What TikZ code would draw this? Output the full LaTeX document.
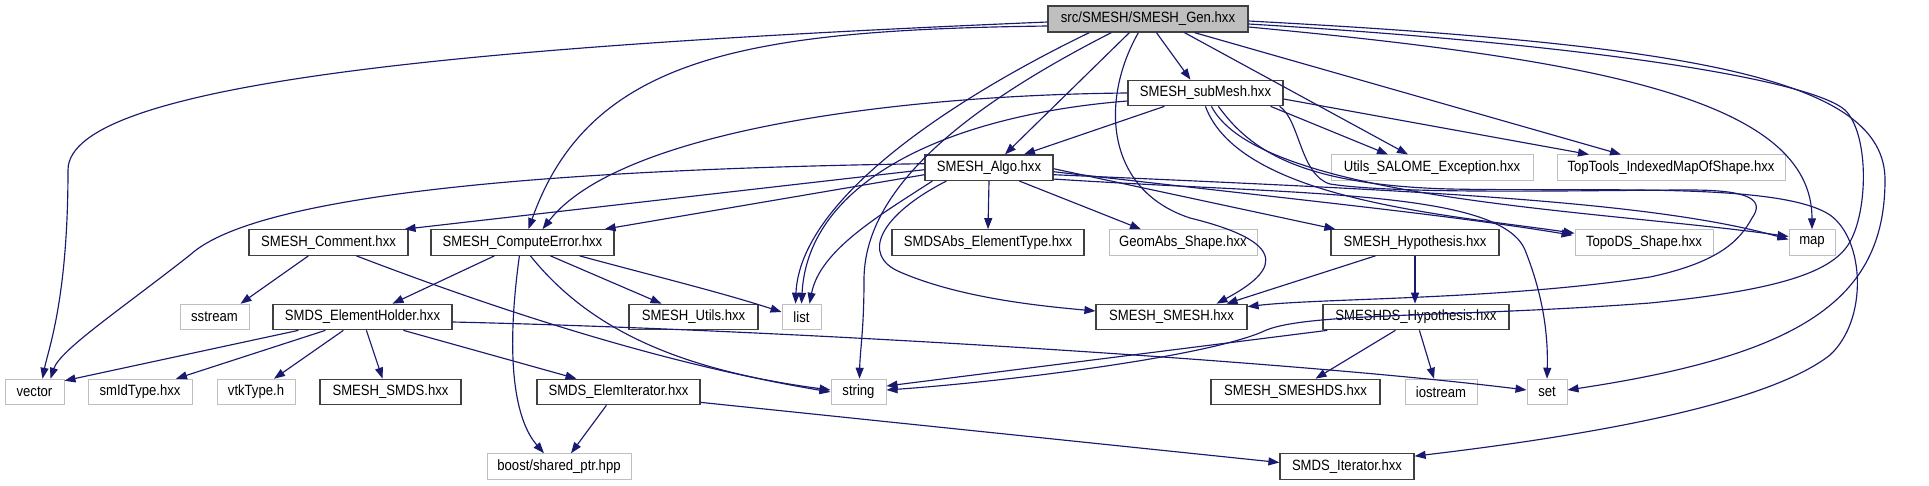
\documentclass[tikz,border=0pt]{standalone}
\usepackage{fontspec}
\setmainfont{Liberation Sans}[FakeStretch=0.88]
\usetikzlibrary{arrows.meta,calc}
\definecolor{edgeblue}{HTML}{191970}
\definecolor{boxgray}{HTML}{BFBFBF}
\definecolor{boxdark}{HTML}{404040}
\tikzset{
  nbox/.style={draw=boxdark, fill=white, line width=1.2pt, minimum height=25.5pt, inner sep=0pt, font=\fontsize{14.9}{16}\selectfont},
  gbox/.style={nbox, draw=boxgray, line width=1pt},
  rootbox/.style={nbox, fill=boxgray, minimum height=26pt},
  dep/.style={draw=edgeblue, line width=1.15pt, -{Triangle[length=11pt,width=8pt]}},
}
\begin{document}
\begin{tikzpicture}[x=1pt,y=-1pt]
\useasboundingbox (0,0) rectangle (1929,485);
% nodes
\node[rootbox, minimum width=200pt] (Gen) at (1148,19) {src/SMESH/SMESH\_Gen.hxx};
\node[nbox, minimum width=155pt] (sub) at (1205.5,93) {SMESH\_subMesh.hxx};
\node[nbox, minimum width=128pt] (Algo) at (989,167.7) {SMESH\_Algo.hxx};
\node[gbox, minimum width=202pt] (Utils) at (1432,167.7) {Utils\_SALOME\_Exception.hxx};
\node[gbox, minimum width=228pt] (TopTools) at (1671,167.7) {TopTools\_IndexedMapOfShape.hxx};
\node[nbox, minimum width=159pt] (Comment) at (328.5,242.5) {SMESH\_Comment.hxx};
\node[nbox, minimum width=183pt] (CE) at (522.5,242.5) {SMESH\_ComputeError.hxx};
\node[nbox, minimum width=192pt] (SMDSAbs) at (988,242.5) {SMDSAbs\_ElementType.hxx};
\node[gbox, minimum width=148pt] (GeomAbs) at (1183,242.5) {GeomAbs\_Shape.hxx};
\node[nbox, minimum width=168pt] (Hyp) at (1415,242.5) {SMESH\_Hypothesis.hxx};
\node[gbox, minimum width=138pt] (TopoDS) at (1644,242.5) {TopoDS\_Shape.hxx};
\node[gbox, minimum width=46pt] (map) at (1812,242.5) {map};
\node[gbox, minimum width=69pt] (sstream) at (214.5,317) {sstream};
\node[nbox, minimum width=179pt] (EH) at (362.5,317) {SMDS\_ElementHolder.hxx};
\node[nbox, minimum width=129pt] (MUtils) at (693.5,317) {SMESH\_Utils.hxx};
\node[gbox, minimum width=39pt] (list) at (801.5,317) {list};
\node[nbox, minimum width=151pt] (SMESH) at (1171.5,317) {SMESH\_SMESH.hxx};
\node[nbox, minimum width=186pt] (DSHyp) at (1416,317) {SMESHDS\_Hypothesis.hxx};
\node[gbox, minimum width=59pt] (vector) at (34.5,392) {vector};
\node[gbox, minimum width=104pt] (smId) at (140,392) {smIdType.hxx};
\node[gbox, minimum width=78pt] (vtk) at (256,392) {vtkType.h};
\node[nbox, minimum width=141pt] (SMDS) at (390.5,392) {SMESH\_SMDS.hxx};
\node[nbox, minimum width=163pt] (EI) at (618.5,392) {SMDS\_ElemIterator.hxx};
\node[gbox, minimum width=55pt] (string) at (858.5,392) {string};
\node[nbox, minimum width=169pt] (SMESHDS) at (1295.5,392) {SMESH\_SMESHDS.hxx};
\node[gbox, minimum width=72pt] (iostream) at (1441,392) {iostream};
\node[gbox, minimum width=40pt] (set) at (1547,392) {set};
\node[gbox, minimum width=144pt] (boost) at (559,466.5) {boost/shared\_ptr.hpp};
\node[nbox, minimum width=134pt] (SMDSIt) at (1347,466.5) {SMDS\_Iterator.hxx};
% edges from Gen
\draw[dep] ($(Gen.west)+(0,3)$) .. controls (500,45) and (68,80) .. (68,170) .. controls (68,300) and (48,350) .. ($(vector.north)+(8,0)$);
\draw[dep] ($(Gen.west)+(0,7)$) .. controls (750,30) and (590,55) .. ($(CE.north)+(6,0)$);
\draw[dep] ($(Gen.south west)+(42,0)$) .. controls (950,100) and (800,200) .. ($(list.north)+(-6,0)$);
\draw[dep] ($(Gen.south west)+(64,0)$) .. controls (940,120) and (864,200) .. (864,280) .. controls (864,330) and (860,350) .. ($(string.north)+(1,0)$);
\draw[dep] ($(Gen.south west)+(82,0)$) -- ($(Algo.north)+(16,0)$);
\draw[dep] ($(Gen.south west)+(91,0)$) .. controls (1100,100) and (1105,190) .. (1190,218) .. controls (1300,245) and (1270,275) .. ($(SMESH.north)+(45,0)$);
\draw[dep] ($(Gen.south west)+(109,0)$) -- ($(sub.north)+(-15,0)$);
\draw[dep] ($(Gen.south west)+(137,0)$) -- ($(Utils.north)+(-24,0)$);
\draw[dep] ($(Gen.south west)+(147,0)$) -- ($(TopTools.north)+(-50,0)$);
\draw[dep] ($(Gen.east)+(0,8)$) .. controls (1600,60) and (1812,100) .. (map.north);
\draw[dep] ($(Gen.east)+(0,2)$) .. controls (1700,45) and (1885,80) .. (1885,180) .. controls (1885,300) and (1800,355) .. ($(set.east)+(0,-2)$);
\draw[dep] ($(Gen.east)+(0,5)$) .. controls (1600,45) and (1810,80) .. (1845,110) .. controls (1870,135) and (1868,215) .. (1848,245) .. controls (1830,272) and (1780,290) .. (1650,303) .. controls (1450,318) and (1300,312) .. (1262,332) .. controls (1200,358) and (1000,382) .. ($(string.east)+(0,-2)$);
% edges from subMesh
\draw[dep] (sub.west) .. controls (900,95) and (620,130) .. ($(CE.north)+(20,0)$);
\draw[dep] ($(sub.west)+(0,8)$) .. controls (950,115) and (808,180) .. (list.north);
\draw[dep] ($(sub.south west)+(37,0)$) -- ($(Algo.north)+(35,0)$);
\draw[dep] ($(sub.south west)+(78,0)$) .. controls (1240,200) and (1450,215) .. ($(TopoDS.north west)+(0,4)$);
\draw[dep] ($(sub.south west)+(84,0)$) .. controls (1260,200) and (1600,210) .. ($(map.west)+(0,-6)$);
\draw[dep] ($(sub.south west)+(91,0)$) .. controls (1250,150) and (1300,185) .. (1450,189) .. controls (1600,192) and (1780,182) .. (1830,215) .. controls (1865,240) and (1868,320) .. (1830,355) .. controls (1760,410) and (1550,440) .. ($(SMDSIt.north east)+(0,3)$);
\draw[dep] ($(sub.south east)+(-4,0)$) .. controls (1300,120) and (1300,175) .. (1330,184) .. controls (1400,195) and (1600,190) .. (1690,190) .. controls (1750,190) and (1765,200) .. (1752,218) .. controls (1740,240) and (1720,262) .. (1650,277) .. controls (1500,300) and (1320,298) .. ($(SMESH.north east)+(0,3)$);
\draw[dep] ($(sub.south east)+(-13,0)$) -- ($(Utils.north)+(-44,0)$);
\draw[dep] ($(sub.east)+(0,6)$) -- ($(TopTools.north)+(-82,0)$);
% edges from Algo
\draw[dep] ($(Algo.west)+(0,-4)$) .. controls (500,170) and (250,200) .. (190,255) .. controls (120,310) and (60,350) .. ($(vector.north)+(16,0)$);
\draw[dep] ($(Algo.west)+(0,2)$) -- ($(Comment.north east)+(-4,0)$);
\draw[dep] ($(Algo.west)+(0,7)$) -- ($(CE.north east)+(-10,0)$);
\draw[dep] ($(Algo.south west)+(8,0)$) .. controls (880,215) and (820,250) .. ($(list.north)+(8,0)$);
\draw[dep] (Algo.south) -- (SMDSAbs.north);
\draw[dep] ($(Algo.south west)+(95,0)$) -- ($(GeomAbs.north)+(-42,0)$);
\draw[dep] ($(Algo.south west)+(22,0)$) .. controls (880,215) and (860,255) .. (900,272) .. controls (960,298) and (1040,306) .. ($(SMESH.west)+(0,-6)$);
\draw[dep] ($(Algo.east)+(0,1)$) -- ($(Hyp.north west)+(5,0)$);
\draw[dep] ($(Algo.east)+(0,4)$) .. controls (1300,200) and (1450,215) .. ($(TopoDS.north west)+(-2,6)$);
\draw[dep] ($(Algo.east)+(0,7)$) .. controls (1400,190) and (1650,200) .. ($(map.west)+(0,-3)$);
\draw[dep] ($(Algo.south east)+(0,-2)$) .. controls (1300,195) and (1500,190) .. (1525,250) .. controls (1545,300) and (1548,340) .. (set.north);
% edges from ComputeError
\draw[dep] ($(CE.south west)+(64,0)$) -- ($(EH.north)+(30,0)$);
\draw[dep] ($(CE.south west)+(89,0)$) .. controls (505,360) and (515,420) .. ($(boost.north)+(-15,0)$);
\draw[dep] ($(CE.south west)+(100,0)$) .. controls (590,330) and (680,370) .. ($(string.west)+(0,-2)$);
\draw[dep] ($(CE.south west)+(120,0)$) -- ($(MUtils.north)+(-32,0)$);
\draw[dep] ($(CE.south east)+(-35,0)$) .. controls (650,275) and (720,292) .. ($(list.west)+(0,-5)$);
% edges from Comment
\draw[dep] ($(Comment.south west)+(60,0)$) -- ($(sstream.north)+(26,0)$);
\draw[dep] ($(Comment.south west)+(108,0)$) .. controls (550,330) and (700,370) .. (string.west);
% edges from ElementHolder
\draw[dep] ($(EH.south west)+(26,0)$) -- ($(vector.north east)+(0,2)$);
\draw[dep] ($(EH.south west)+(53,0)$) -- ($(smId.north)+(36,0)$);
\draw[dep] ($(EH.south west)+(71,0)$) -- ($(vtk.north)+(18,0)$);
\draw[dep] ($(EH.south west)+(94,0)$) -- ($(SMDS.north)+(-8,0)$);
\draw[dep] ($(EH.south west)+(131,0)$) -- ($(EI.north)+(-42,0)$);
\draw[dep] ($(EH.east)+(0,5)$) .. controls (800,330) and (1300,362) .. ($(set.west)+(0,-2)$);
% edges from ElemIterator
\draw[dep] ($(EI.south west)+(70,0)$) -- ($(boost.north)+(12,0)$);
\draw[dep] ($(EI.south east)+(0,-3)$) -- ($(SMDSIt.west)+(0,-4)$);
% edges from Hypothesis
\draw[dep] ($(Hyp.south west)+(45,0)$) -- ($(SMESH.north)+(55,0)$);
\draw[dep] (Hyp.south) -- ($(DSHyp.north)+(-1,0)$);
% edges from SMESHDS_Hypothesis
\draw[dep] ($(DSHyp.south west)+(5,0)$) -- ($(string.east)+(0,-6)$);
\draw[dep] ($(DSHyp.south west)+(73,0)$) -- ($(SMESHDS.north)+(20,0)$);
\draw[dep] ($(DSHyp.south west)+(97,0)$) -- ($(iostream.north)+(-7,0)$);
\end{tikzpicture}
\end{document}
